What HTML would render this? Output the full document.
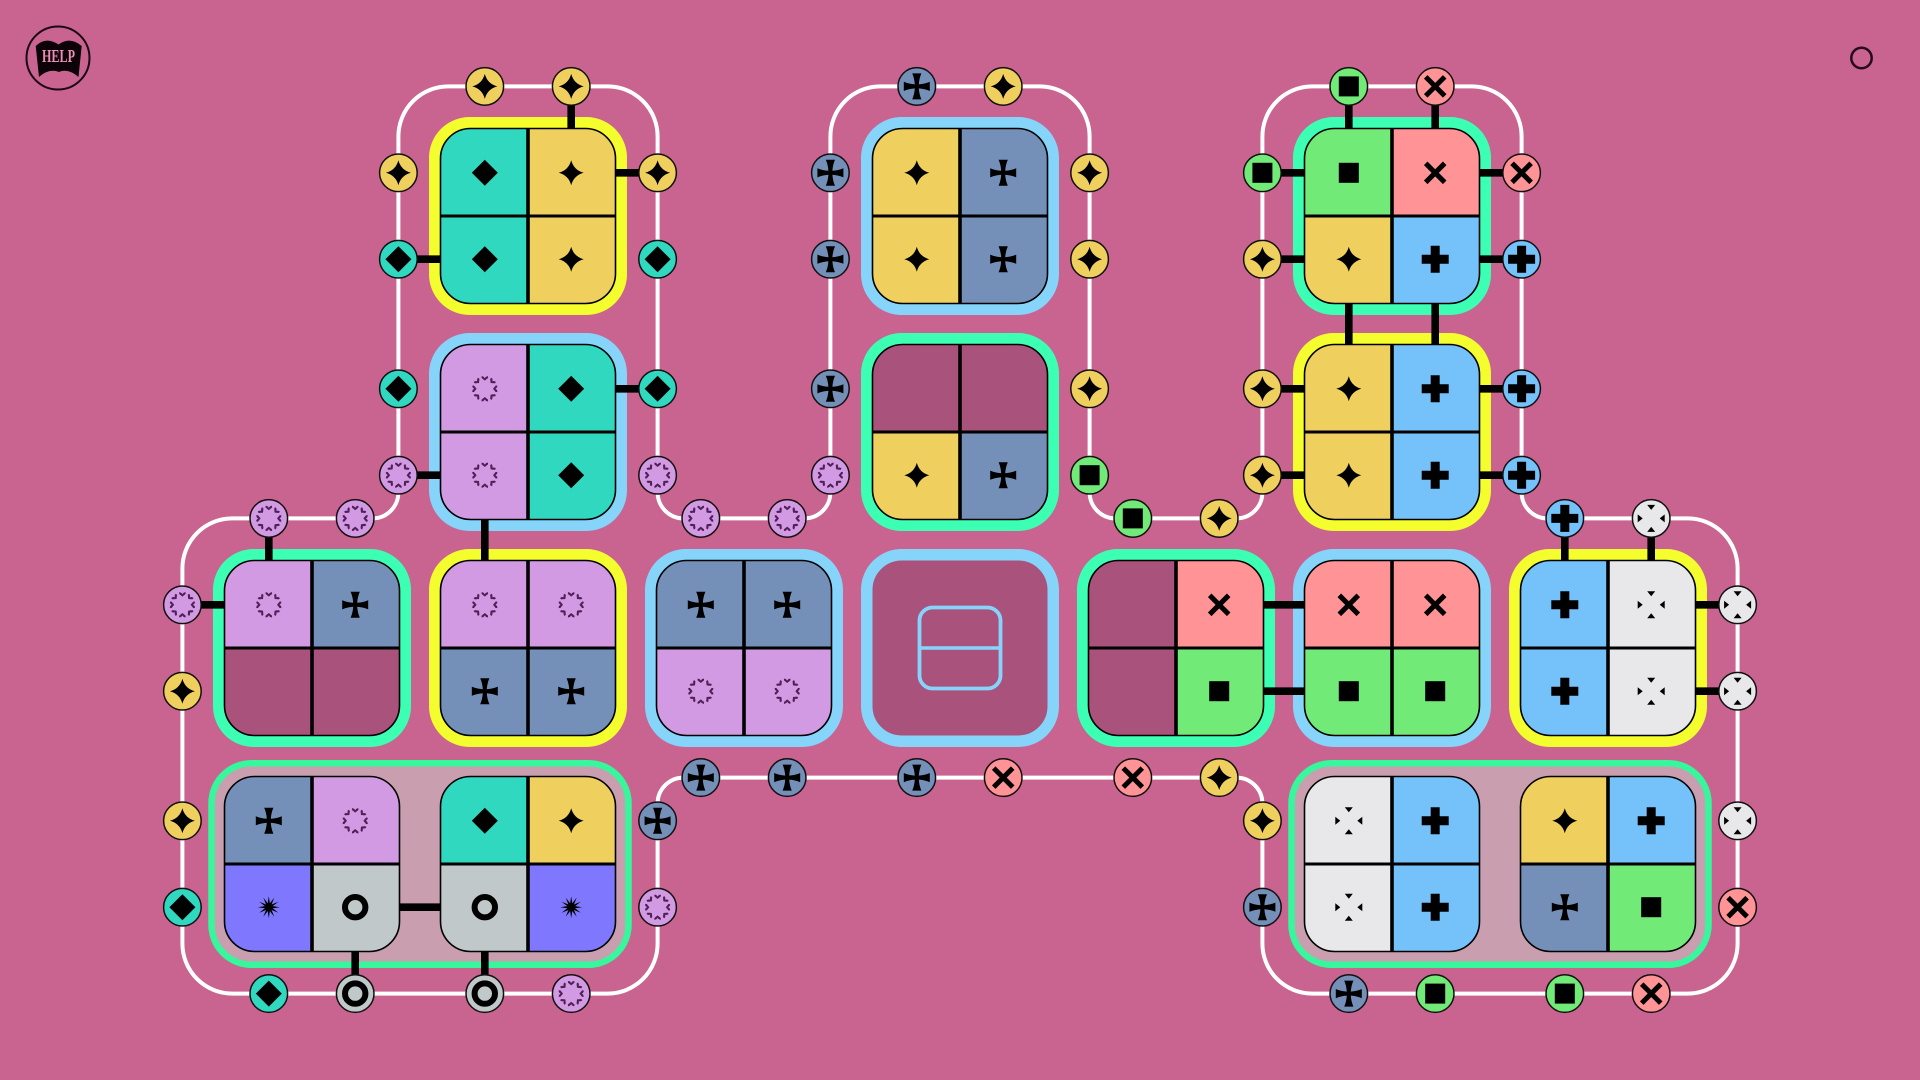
<!DOCTYPE html>
<html><head><meta charset="utf-8"><style>html,body{margin:0;padding:0;background:#c9638f;width:1920px;height:1080px;overflow:hidden}svg{display:block}</style></head>
<body>
<svg xmlns="http://www.w3.org/2000/svg" width="1920" height="1080" viewBox="0 0 1920 1080">
<defs>
<path id="sy" d="M0-12.5Q2.6-2.6 12.5 0Q2.6 2.6 0 12.5Q-2.6 2.6-12.5 0Q-2.6-2.6 0-12.5Z"/>
<path id="st" d="M0-13L13 0L0 13L-13 0Z"/>
<path id="ss" d="M-2-2Q-2.4-8-4.6-13H4.6Q2.4-8 2-2Q8-2.4 13-4.6V4.6Q8 2.4 2 2Q2.4 8 4.6 13H-4.6Q-2.4 8-2 2Q-8 2.4-13 4.6V-4.6Q-8-2.4-2-2Z"/>
<g id="ht"><path d="M0-7.5Q1-9.2 2.4-9.4Q3.6-9.6 3.2-7.6L0-5L-3.2-7.6Q-3.6-9.6-2.4-9.4Q-1-9.2 0-7.5Z" transform="translate(0 -3.2)" fill="#4f2058"/></g>
<g id="sp"><use href="#ht"/><use href="#ht" transform="rotate(45)"/><use href="#ht" transform="rotate(90)"/><use href="#ht" transform="rotate(135)"/><use href="#ht" transform="rotate(180)"/><use href="#ht" transform="rotate(225)"/><use href="#ht" transform="rotate(270)"/><use href="#ht" transform="rotate(315)"/></g>
<rect id="sg" x="-10" y="-10" width="20" height="20"/>
<path id="sr" d="M-9.5-9.5L9.5 9.5M9.5-9.5L-9.5 9.5" stroke="#000" stroke-width="5" fill="none"/>
<path id="sb" d="M-4.5-13.5H4.5V-4.5H13.5V4.5H4.5V13.5H-4.5V4.5H-13.5V-4.5H-4.5Z"/>
<path id="sw" d="M-4-13.5H4L0-8.5ZM-4 13.5H4L0 8.5ZM-13.5-4V4L-8.5 0ZM13.5-4V4L8.5 0Z"/>
<circle id="so" r="10.2" fill="none" stroke="#000" stroke-width="6"/>
<path id="sv" d="M0-11L1.05-3.9L5.5-9.53L2.76-2.76L9.53-5.5L3.9-1.05L11 0L3.9 1.05L9.53 5.5L2.76 2.76L5.5 9.53L1.05 3.9L0 11L-1.05 3.9L-5.5 9.53L-2.76 2.76L-9.53 5.5L-3.9 1.05L-11 0L-3.9-1.05L-9.53-5.5L-2.76-2.76L-5.5-9.53L-1.05-3.9Z"/>

<g id="Py"><circle r="18.8" fill="#efcf5e" stroke="#111" stroke-width="1.5"/><use href="#sy"/></g>
<g id="Pt"><circle r="18.8" fill="#31d8c0" stroke="#111" stroke-width="1.5"/><use href="#st"/></g>
<g id="Ps"><circle r="18.8" fill="#7490b8" stroke="#111" stroke-width="1.5"/><use href="#ss"/></g>
<g id="Pp"><circle r="18.8" fill="#d29ae2" stroke="#111" stroke-width="1.5"/><use href="#sp"/></g>
<g id="Pg"><circle r="18.8" fill="#72ea77" stroke="#111" stroke-width="1.5"/><use href="#sg"/></g>
<g id="Pr"><circle r="18.8" fill="#ff9396" stroke="#111" stroke-width="1.5"/><use href="#sr"/></g>
<g id="Pb"><circle r="18.8" fill="#75c2fb" stroke="#111" stroke-width="1.5"/><use href="#sb"/></g>
<g id="Pw"><circle r="18.8" fill="#e8e8ea" stroke="#111" stroke-width="1.5"/><use href="#sw"/></g>
<g id="Po"><circle r="18.8" fill="#c0c8c9" stroke="#111" stroke-width="1.5"/><use href="#so"/></g>

<path id="tl" d="M-87.5 0V-57.5A30 30 0 0 1-57.5-87.5H0V0Z"/>
<path id="tr" d="M87.5 0V-57.5A30 30 0 0 0 57.5-87.5H0V0Z"/>
<path id="bl" d="M-87.5 0V57.5A30 30 0 0 0-57.5 87.5H0V0Z"/>
<path id="br" d="M87.5 0V57.5A30 30 0 0 1 57.5 87.5H0V0Z"/>
<g id="grid"><rect x="-87.5" y="-87.5" width="175" height="175" rx="30" fill="none" stroke="#000" stroke-width="1.6"/><path d="M0-87.5V87.5" stroke="#000" stroke-width="3.6"/><path d="M-87.5 0H87.5" stroke="#000" stroke-width="3"/></g>
<rect id="ring" x="-93.25" y="-93.25" width="186.5" height="186.5" rx="35" fill="none" stroke-width="11.5"/>
</defs>

<rect width="1920" height="1080" fill="#c9638f"/>

<!-- help + corner -->
<circle cx="58" cy="58" r="31.5" fill="none" stroke="#1a0712" stroke-width="2"/>
<path d="M35.7 46Q46 36 58.5 44.5Q70 36 81.7 46L78.5 77Q68 68 59 72Q49 68 39 77Z" fill="#0c0208"/>
<text x="58.5" y="62" text-anchor="middle" font-family="'Liberation Serif',serif" font-weight="700" font-size="18" fill="#ec8fb2" textLength="33" lengthAdjust="spacingAndGlyphs">HELP</text>
<circle cx="1861.5" cy="58" r="10.2" fill="none" stroke="#240a1b" stroke-width="2.5"/>

<!-- white wire -->
<path fill="none" stroke="#fff" stroke-width="4" d="M398.4 136A50 50 0 0 1 448.4 86.4H607.6A50 50 0 0 1 657.6 136.4V492.4A26 26 0 0 0 683.6 518.4H804A26 26 0 0 0 830.4 492.4V136.4A50 50 0 0 1 880.4 86.4H1039.6A50 50 0 0 1 1089.6 136.4V492.4A26 26 0 0 0 1115.6 518.4H1236A26 26 0 0 0 1262.4 492.4V136.4A50 50 0 0 1 1312.4 86.4H1471.6A50 50 0 0 1 1521.6 136.4V492.4A26 26 0 0 0 1547.6 518.4H1688A50 50 0 0 1 1737.6 568.4V943.6A50 50 0 0 1 1687.6 993.6H1312.4A50 50 0 0 1 1262.4 943.6V803.6A26 26 0 0 0 1236.4 777.6H683.6A26 26 0 0 0 657.6 803.6V943.6A50 50 0 0 1 607.6 993.6H232.4A50 50 0 0 1 182.4 943.6V568.4A50 50 0 0 1 232.4 518.4H372.4A26 26 0 0 0 398.4 492.4V136Z"/>

<!-- rings -->
<rect x="211.5" y="763.2" width="417" height="201.6" rx="40" fill="#c99fb0" stroke="#36f79c" stroke-width="6.5"/>
<rect x="1291.5" y="763.2" width="417" height="201.6" rx="40" fill="#c99fb0" stroke="#36f79c" stroke-width="6.5"/>
<g>
<use href="#ring" x="528" y="216" stroke="#f4fd2e"/>
<use href="#ring" x="960" y="216" stroke="#87d4fb"/>
<use href="#ring" x="1392" y="216" stroke="#3dffb3"/>
<use href="#ring" x="528" y="432" stroke="#87d4fb"/>
<use href="#ring" x="960" y="432" stroke="#3dffb3"/>
<use href="#ring" x="1392" y="432" stroke="#f4fd2e"/>
<use href="#ring" x="312" y="648" stroke="#3dffb3"/>
<use href="#ring" x="528" y="648" stroke="#f4fd2e"/>
<use href="#ring" x="744" y="648" stroke="#87d4fb"/>
<use href="#ring" x="1176" y="648" stroke="#3dffb3"/>
<use href="#ring" x="1392" y="648" stroke="#87d4fb"/>
<use href="#ring" x="1608" y="648" stroke="#f4fd2e"/>
</g>

<!-- connectors -->
<path fill="none" stroke="#000" stroke-width="7.6" d="M571.2 86V130M615 172.8H657M398 259.2H441M615 388.8H657M398 475.2H441M484.8 518V562M268.8 518V562M182 604.8H226M1348.8 86V130M1435.2 86V130M1262 172.8H1306M1262 259.2H1306M1478 172.8H1521M1478 259.2H1521M1348.8 302V346M1435.2 302V346M1262 388.8H1306M1262 475.2H1306M1478 388.8H1521M1478 475.2H1521M1262 604.8H1306M1262 691.2H1306M1564.8 518V562M1651.2 518V562M1694 604.8H1738M1694 691.2H1738M398 907.2H442M355.2 950V994M484.8 950V994"/>

<!-- centre tile -->
<g transform="translate(960 648)">
<rect x="-93.25" y="-93.25" width="186.5" height="186.5" rx="35" fill="#a9527b" stroke="#87d4fb" stroke-width="11.5"/>
<rect x="-40.5" y="-40.5" width="81" height="81" rx="13" fill="none" stroke="#87d4fb" stroke-width="3.8"/>
<path d="M-40.5 0H40.5" stroke="#87d4fb" stroke-width="3.4"/>
</g>

<!-- tiles -->
<g transform="translate(528 216)"><use href="#tl" fill="#31d8c0"/><use href="#tr" fill="#efcf5e"/><use href="#bl" fill="#31d8c0"/><use href="#br" fill="#efcf5e"/><use href="#grid"/><use href="#st" x="-43.2" y="-43.2"/><use href="#sy" x="43.2" y="-43.2"/><use href="#st" x="-43.2" y="43.2"/><use href="#sy" x="43.2" y="43.2"/></g>
<g transform="translate(960 216)"><use href="#tl" fill="#efcf5e"/><use href="#tr" fill="#7490b8"/><use href="#bl" fill="#efcf5e"/><use href="#br" fill="#7490b8"/><use href="#grid"/><use href="#sy" x="-43.2" y="-43.2"/><use href="#ss" x="43.2" y="-43.2"/><use href="#sy" x="-43.2" y="43.2"/><use href="#ss" x="43.2" y="43.2"/></g>
<g transform="translate(1392 216)"><use href="#tl" fill="#72ea77"/><use href="#tr" fill="#ff9396"/><use href="#bl" fill="#efcf5e"/><use href="#br" fill="#75c2fb"/><use href="#grid"/><use href="#sg" x="-43.2" y="-43.2"/><use href="#sr" x="43.2" y="-43.2"/><use href="#sy" x="-43.2" y="43.2"/><use href="#sb" x="43.2" y="43.2"/></g>
<g transform="translate(528 432)"><use href="#tl" fill="#d29ae2"/><use href="#tr" fill="#31d8c0"/><use href="#bl" fill="#d29ae2"/><use href="#br" fill="#31d8c0"/><use href="#grid"/><use href="#sp" x="-43.2" y="-43.2"/><use href="#st" x="43.2" y="-43.2"/><use href="#sp" x="-43.2" y="43.2"/><use href="#st" x="43.2" y="43.2"/></g>
<g transform="translate(960 432)"><use href="#tl" fill="#a9527b"/><use href="#tr" fill="#a9527b"/><use href="#bl" fill="#efcf5e"/><use href="#br" fill="#7490b8"/><use href="#grid"/><use href="#sy" x="-43.2" y="43.2"/><use href="#ss" x="43.2" y="43.2"/></g>
<g transform="translate(1392 432)"><use href="#tl" fill="#efcf5e"/><use href="#tr" fill="#75c2fb"/><use href="#bl" fill="#efcf5e"/><use href="#br" fill="#75c2fb"/><use href="#grid"/><use href="#sy" x="-43.2" y="-43.2"/><use href="#sb" x="43.2" y="-43.2"/><use href="#sy" x="-43.2" y="43.2"/><use href="#sb" x="43.2" y="43.2"/></g>
<g transform="translate(312 648)"><use href="#tl" fill="#d29ae2"/><use href="#tr" fill="#7490b8"/><use href="#bl" fill="#a9527b"/><use href="#br" fill="#a9527b"/><use href="#grid"/><use href="#sp" x="-43.2" y="-43.2"/><use href="#ss" x="43.2" y="-43.2"/></g>
<g transform="translate(528 648)"><use href="#tl" fill="#d29ae2"/><use href="#tr" fill="#d29ae2"/><use href="#bl" fill="#7490b8"/><use href="#br" fill="#7490b8"/><use href="#grid"/><use href="#sp" x="-43.2" y="-43.2"/><use href="#sp" x="43.2" y="-43.2"/><use href="#ss" x="-43.2" y="43.2"/><use href="#ss" x="43.2" y="43.2"/></g>
<g transform="translate(744 648)"><use href="#tl" fill="#7490b8"/><use href="#tr" fill="#7490b8"/><use href="#bl" fill="#d29ae2"/><use href="#br" fill="#d29ae2"/><use href="#grid"/><use href="#ss" x="-43.2" y="-43.2"/><use href="#ss" x="43.2" y="-43.2"/><use href="#sp" x="-43.2" y="43.2"/><use href="#sp" x="43.2" y="43.2"/></g>
<g transform="translate(1176 648)"><use href="#tl" fill="#a9527b"/><use href="#tr" fill="#ff9396"/><use href="#bl" fill="#a9527b"/><use href="#br" fill="#72ea77"/><use href="#grid"/><use href="#sr" x="43.2" y="-43.2"/><use href="#sg" x="43.2" y="43.2"/></g>
<g transform="translate(1392 648)"><use href="#tl" fill="#ff9396"/><use href="#tr" fill="#ff9396"/><use href="#bl" fill="#72ea77"/><use href="#br" fill="#72ea77"/><use href="#grid"/><use href="#sr" x="-43.2" y="-43.2"/><use href="#sr" x="43.2" y="-43.2"/><use href="#sg" x="-43.2" y="43.2"/><use href="#sg" x="43.2" y="43.2"/></g>
<g transform="translate(1608 648)"><use href="#tl" fill="#75c2fb"/><use href="#tr" fill="#e8e8ea"/><use href="#bl" fill="#75c2fb"/><use href="#br" fill="#e8e8ea"/><use href="#grid"/><use href="#sb" x="-43.2" y="-43.2"/><use href="#sw" x="43.2" y="-43.2"/><use href="#sb" x="-43.2" y="43.2"/><use href="#sw" x="43.2" y="43.2"/></g>
<g transform="translate(312 864)"><use href="#tl" fill="#7490b8"/><use href="#tr" fill="#d29ae2"/><use href="#bl" fill="#7f78fe"/><use href="#br" fill="#c0c8c9"/><use href="#grid"/><use href="#ss" x="-43.2" y="-43.2"/><use href="#sp" x="43.2" y="-43.2"/><use href="#sv" x="-43.2" y="43.2"/><use href="#so" x="43.2" y="43.2"/></g>
<g transform="translate(528 864)"><use href="#tl" fill="#31d8c0"/><use href="#tr" fill="#efcf5e"/><use href="#bl" fill="#c0c8c9"/><use href="#br" fill="#7f78fe"/><use href="#grid"/><use href="#st" x="-43.2" y="-43.2"/><use href="#sy" x="43.2" y="-43.2"/><use href="#so" x="-43.2" y="43.2"/><use href="#sv" x="43.2" y="43.2"/></g>
<g transform="translate(1392 864)"><use href="#tl" fill="#e8e8ea"/><use href="#tr" fill="#75c2fb"/><use href="#bl" fill="#e8e8ea"/><use href="#br" fill="#75c2fb"/><use href="#grid"/><use href="#sw" x="-43.2" y="-43.2"/><use href="#sb" x="43.2" y="-43.2"/><use href="#sw" x="-43.2" y="43.2"/><use href="#sb" x="43.2" y="43.2"/></g>
<g transform="translate(1608 864)"><use href="#tl" fill="#efcf5e"/><use href="#tr" fill="#75c2fb"/><use href="#bl" fill="#7490b8"/><use href="#br" fill="#72ea77"/><use href="#grid"/><use href="#sy" x="-43.2" y="-43.2"/><use href="#sb" x="43.2" y="-43.2"/><use href="#ss" x="-43.2" y="43.2"/><use href="#sg" x="43.2" y="43.2"/></g>

<!-- pegs -->
<use href="#Py" x="484.8" y="86.4"/><use href="#Py" x="571.2" y="86.4"/><use href="#Ps" x="916.8" y="86.4"/><use href="#Py" x="1003.2" y="86.4"/><use href="#Pg" x="1348.8" y="86.4"/><use href="#Pr" x="1435.2" y="86.4"/>
<use href="#Py" x="398.4" y="172.8"/><use href="#Py" x="657.6" y="172.8"/><use href="#Ps" x="830.4" y="172.8"/><use href="#Py" x="1089.6" y="172.8"/><use href="#Pg" x="1262.4" y="172.8"/><use href="#Pr" x="1521.6" y="172.8"/>
<use href="#Pt" x="398.4" y="259.2"/><use href="#Pt" x="657.6" y="259.2"/><use href="#Ps" x="830.4" y="259.2"/><use href="#Py" x="1089.6" y="259.2"/><use href="#Py" x="1262.4" y="259.2"/><use href="#Pb" x="1521.6" y="259.2"/>
<use href="#Pt" x="398.4" y="388.8"/><use href="#Pt" x="657.6" y="388.8"/><use href="#Ps" x="830.4" y="388.8"/><use href="#Py" x="1089.6" y="388.8"/><use href="#Py" x="1262.4" y="388.8"/><use href="#Pb" x="1521.6" y="388.8"/>
<use href="#Pp" x="398.4" y="475.2"/><use href="#Pp" x="657.6" y="475.2"/><use href="#Pp" x="830.4" y="475.2"/><use href="#Pg" x="1089.6" y="475.2"/><use href="#Py" x="1262.4" y="475.2"/><use href="#Pb" x="1521.6" y="475.2"/>
<use href="#Pp" x="268.8" y="518.4"/><use href="#Pp" x="355.2" y="518.4"/><use href="#Pp" x="700.8" y="518.4"/><use href="#Pp" x="787.2" y="518.4"/><use href="#Pg" x="1132.8" y="518.4"/><use href="#Py" x="1219.2" y="518.4"/><use href="#Pb" x="1564.8" y="518.4"/><use href="#Pw" x="1651.2" y="518.4"/>
<use href="#Pp" x="182.4" y="604.8"/><use href="#Py" x="182.4" y="691.2"/><use href="#Py" x="182.4" y="820.8"/><use href="#Pt" x="182.4" y="907.2"/>
<use href="#Pw" x="1737.6" y="604.8"/><use href="#Pw" x="1737.6" y="691.2"/><use href="#Pw" x="1737.6" y="820.8"/><use href="#Pr" x="1737.6" y="907.2"/>
<use href="#Ps" x="700.8" y="777.6"/><use href="#Ps" x="787.2" y="777.6"/><use href="#Ps" x="916.8" y="777.6"/><use href="#Pr" x="1003.2" y="777.6"/><use href="#Pr" x="1132.8" y="777.6"/><use href="#Py" x="1219.2" y="777.6"/>
<use href="#Ps" x="657.6" y="820.8"/><use href="#Pp" x="657.6" y="907.2"/><use href="#Py" x="1262.4" y="820.8"/><use href="#Ps" x="1262.4" y="907.2"/>
<use href="#Pt" x="268.8" y="993.6"/><use href="#Po" x="355.2" y="993.6"/><use href="#Po" x="484.8" y="993.6"/><use href="#Pp" x="571.2" y="993.6"/><use href="#Ps" x="1348.8" y="993.6"/><use href="#Pg" x="1435.2" y="993.6"/><use href="#Pg" x="1564.8" y="993.6"/><use href="#Pr" x="1651.2" y="993.6"/>
</svg>
</body></html>
